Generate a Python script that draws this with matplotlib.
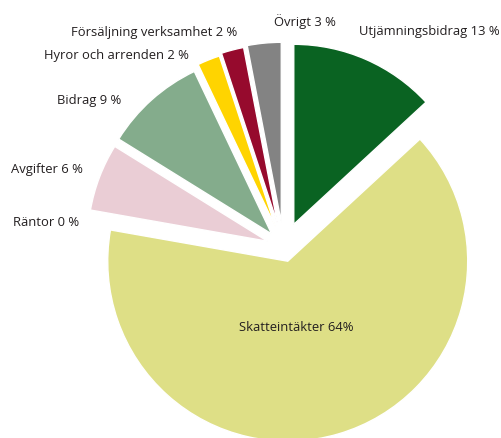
import matplotlib.pyplot as plt

plt.rcParams['font.family'] = ['Open Sans', 'DejaVu Sans']

# data
categories = ["Utjämningsbidrag", "Skatteintäkter", "Räntor", "Avgifter",
              "Bidrag", "Hyror och arrenden", "Försäljning verksamhet", "Övrigt"]
shares = [13, 64, 0, 6, 9, 2, 2, 3]
label_texts = ["Utjämningsbidrag 13 %", "Skatteintäkter 64%", "Räntor 0 %", "Avgifter 6 %",
               "Bidrag 9 %", "Hyror och arrenden 2 %", "Försäljning verksamhet 2 %", "Övrigt 3 %"]

# style
colors = ["#0a6322", "#dedf86", "#dedf86", "#eacdd5",
          "#84ac8c", "#ffd400", "#960a2d", "#838383"]
explode = [0.14, 0.08, 0.0, 0.095, 0.10, 0.122, 0.133, 0.14]
# label anchor (x, y, ha) in pie radius units
label_pos = [(1.200, 1.204, 'right'), (0.071, -0.442, 'center'), (-1.137, 0.143, 'right'),
             (-1.115, 0.436, 'right'), (-0.904, 0.824, 'right'), (-0.526, 1.069, 'right'),
             (-0.259, 1.201, 'right'), (0.118, 1.259, 'center')]

fig = plt.figure(figsize=(5.02, 4.39), dpi=100)
ax = fig.add_axes([0, 0, 1, 1])

wedges, texts = ax.pie(shares, colors=colors, explode=explode, startangle=90,
                       counterclock=False, labels=label_texts,
                       wedgeprops=dict(edgecolor='white', linewidth=1.0),
                       textprops=dict(fontsize=9.4, color='#231f20'))

for t, (x, y, ha) in zip(texts, label_pos):
    t.set_position((x, y))
    t.set_ha(ha)
    t.set_va('center')

ax.set_aspect('auto')
ax.set_xlim(-1.576, 1.213)
ax.set_ylim(-1.059, 1.380)
ax.axis('off')

fig.savefig('out.png', dpi=100)
